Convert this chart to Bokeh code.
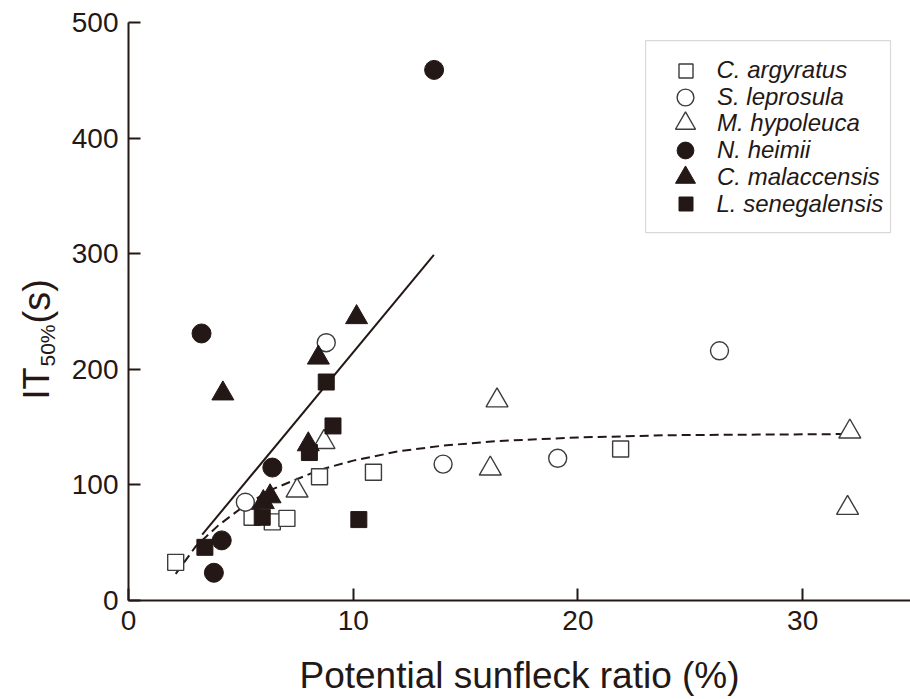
import math
from bokeh.plotting import figure
from bokeh.layouts import row
from bokeh.models import Label, Legend, LegendItem, Range1d, FixedTicker, BoxAnnotation
from bokeh.embed import file_html
from bokeh.resources import INLINE

# ---- data ----
x_ticks = [0, 10, 20, 30]
y_ticks = [0, 100, 200, 300, 400, 500]

ca_x = [2.1, 5.5, 6.4, 7.05, 8.5, 10.9, 21.9]          # C. argyratus
ca_y = [33, 72, 68, 71, 107, 111, 131]
sl_x = [5.2, 8.8, 14.0, 19.1, 26.3]                     # S. leprosula
sl_y = [85, 223, 118, 123, 216]
mh_x = [7.5, 8.7, 16.1, 16.4, 32.0, 32.1]               # M. hypoleuca
mh_y = [95, 137, 114, 173, 80, 146]
nh_x = [3.25, 3.8, 4.15, 6.4, 13.6]                     # N. heimii
nh_y = [231, 24, 52, 115, 459]
cm_x = [4.2, 6.0, 6.3, 8.0, 8.45, 10.15]                # C. malaccensis
cm_y = [179, 85, 90, 135, 210, 245]
ls_x = [3.4, 5.95, 8.05, 8.8, 9.1, 10.25]               # L. senegalensis
ls_y = [46, 72, 128, 189, 151, 70]

line_x = [3.28, 13.59]                                  # solid regression line
line_y = [57, 299]
curve_x = [2.1, 3.0, 4.0, 5.3, 6.5, 8.5, 10.0, 12.0, 14.0, 16.5, 20.0, 24.0, 28.0, 32.1]
curve_y = [23, 47, 65, 84, 97, 113, 121, 129, 134, 138, 141, 143, 143.5, 144]

species = ["C. argyratus", "S. leprosula", "M. hypoleuca",
           "N. heimii", "C. malaccensis", "L. senegalensis"]

INK = "#231815"
OPEN = "#3c3c3c"
FONT = "Liberation Sans"
LAB_W = 62

# ---- main plot ----
p = figure(width=910 - LAB_W, height=699, x_range=Range1d(0, 34.8), y_range=Range1d(0, 500),
           output_backend="svg", toolbar_location=None,
           min_border_left=128 - LAB_W, min_border_right=0, min_border_top=22, min_border_bottom=99)
p.xgrid.visible = False
p.ygrid.visible = False
p.outline_line_color = None
p.background_fill_color = "white"
p.border_fill_color = "white"

p.xaxis.ticker = FixedTicker(ticks=x_ticks)
p.yaxis.ticker = FixedTicker(ticks=y_ticks)
for ax in (p.xaxis, p.yaxis):
    ax.axis_line_width = 2
    ax.axis_line_color = INK
    ax.major_tick_in = 12
    ax.major_tick_out = 0
    ax.major_tick_line_width = 2
    ax.major_tick_line_color = INK
    ax.minor_tick_line_color = None
    ax.major_label_text_font = FONT
    ax.major_label_text_font_size = "28px"
    ax.major_label_text_color = INK
    ax.major_label_standoff = 10

p.xaxis.axis_label = "Potential sunfleck ratio (%)"
p.xaxis.axis_label_text_font = FONT
p.xaxis.axis_label_text_font_size = "37px"
p.xaxis.axis_label_text_font_style = "normal"
p.xaxis.axis_label_text_color = INK
p.xaxis.axis_label_standoff = 22

# fitted lines
p.line(line_x, line_y, line_color=INK, line_width=2)
p.line(curve_x, curve_y, line_color=INK, line_width=2, line_dash="9 5")

# open markers
r_ca = p.scatter(ca_x, ca_y, marker="square", size=16, fill_color="white", line_color=OPEN, line_width=1.4)
r_sl = p.scatter(sl_x, sl_y, marker="circle", size=18, fill_color="white", line_color=OPEN, line_width=1.4)
r_mh = p.scatter(mh_x, mh_y, marker="triangle", size=22, fill_color="white", line_color=OPEN, line_width=1.4)
# filled markers
r_nh = p.scatter(nh_x, nh_y, marker="circle", size=19, fill_color=INK, line_color=INK)
r_cm = p.scatter(cm_x, cm_y, marker="triangle", size=22, fill_color=INK, line_color=INK)
r_ls = p.scatter(ls_x, ls_y, marker="square", size=16, fill_color=INK, line_color=INK)
renderers = [r_ca, r_sl, r_mh, r_nh, r_cm, r_ls]

# legend frame (top-right), then one row per species
p.add_layout(BoxAnnotation(left=23.01, right=33.91, top=484.4, bottom=318.3,
                           fill_color="white", fill_alpha=1.0,
                           line_color="#808080", line_width=1.2))
glyph_px = [35, 42, 50, 42, 50, 35]     # legend marker size = 0.4 * glyph box
for i, (name, r, g) in enumerate(zip(species, renderers, glyph_px)):
    yc = 70 + 26.7 * i                 # row centre, px from top of canvas
    lg = Legend(items=[LegendItem(label=name, renderers=[r])],
                location=(685 - g / 2 - 128, 600 - (yc + g / 2)))
    lg.glyph_height = g
    lg.glyph_width = g
    lg.padding = 0
    lg.margin = 0
    lg.spacing = 0
    lg.label_standoff = int(round(717 - (685 + g / 2)))
    lg.label_height = 20
    lg.label_text_font = FONT
    lg.label_text_font_size = "24px"
    lg.label_text_font_style = "italic"
    lg.label_text_color = INK
    lg.border_line_color = None
    lg.background_fill_alpha = 0.0
    p.add_layout(lg)

# ---- narrow strip on the left holding the y-axis title IT_50%(s) ----
lab = figure(width=LAB_W, height=699, x_range=Range1d(0, LAB_W), y_range=Range1d(0, 699),
             output_backend="svg", toolbar_location=None,
             x_axis_location=None, y_axis_location=None, min_border=0)
lab.grid.visible = False
lab.outline_line_color = None
lab.background_fill_color = "white"
lab.border_fill_color = "white"
lab.add_layout(Label(x=36, y=201, x_units="screen", y_units="screen", text="IT", angle=math.pi / 2,
                     text_font=FONT, text_font_size="36px", text_baseline="middle",
                     text_align="left", text_color=INK))
lab.add_layout(Label(x=47, y=234, x_units="screen", y_units="screen", text="50%", angle=math.pi / 2,
                     text_font=FONT, text_font_size="21px", text_baseline="middle",
                     text_align="left", text_color=INK))
lab.add_layout(Label(x=36, y=277, x_units="screen", y_units="screen", text="(s)", angle=math.pi / 2,
                     text_font=FONT, text_font_size="38px", text_baseline="middle",
                     text_align="left", text_color=INK))

layout = row(lab, p, spacing=0)
open("out.html", "w").write(file_html(layout, INLINE))
